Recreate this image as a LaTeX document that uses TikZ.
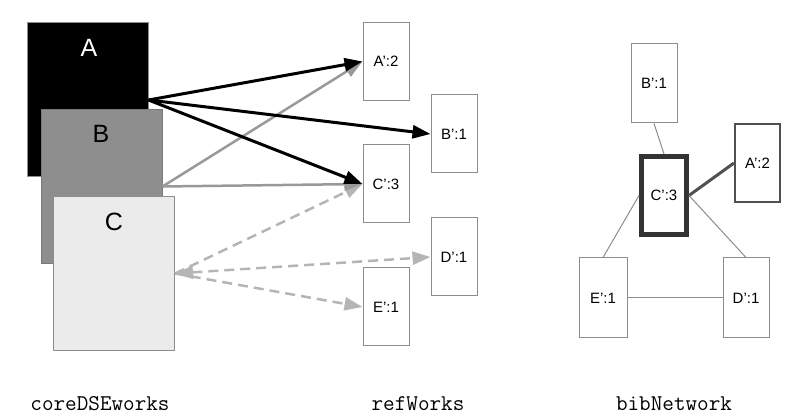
\documentclass[tikz,border=0pt]{standalone}
\usepackage{fontspec}
\setmainfont{Liberation Sans}
\usetikzlibrary{arrows.meta}
\definecolor{boxline}{HTML}{8C8C8C}
\definecolor{bfill}{HTML}{8E8E8E}
\definecolor{bline}{HTML}{7A7A7A}
\definecolor{cfill}{HTML}{EBEBEB}
\definecolor{garrow}{HTML}{999999}
\definecolor{darrow}{HTML}{B5B5B5}
\definecolor{thickline}{HTML}{333333}
\definecolor{medline}{HTML}{505050}
\begin{document}
\begin{tikzpicture}[x=1pt,y=-1pt,
  bigbox/.style={draw=boxline, line width=1pt, inner sep=0pt, minimum width=121pt, minimum height=154pt},
  biglabel/.style={font=\fontsize{25}{28}\selectfont, inner sep=0pt},
  refbox/.style={draw=boxline, line width=1pt, inner sep=0pt, minimum width=46pt, minimum height=78pt, fill=white, font=\fontsize{15}{17}\selectfont},
  caption/.style={font=\ttfamily\fontsize{22.5}{24}\selectfont, anchor=base, inner sep=0pt},
  tip/.style={-{Triangle[length=18pt,width=13pt]}},
  blackarrow/.style={tip, draw=black, line width=3pt},
  grayarrow/.style={tip, draw=garrow, line width=2.5pt},
  dasharrow/.style={tip, draw=darrow, line width=2.5pt, dash pattern=on 10pt off 6pt},
  thinedge/.style={draw=boxline, line width=1pt}
]
\useasboundingbox (0,0) rectangle (806,419);

% coreDSEworks stack
\node[bigbox, fill=black] (A) at (87.5,100) {};
\node[biglabel, text=white] (Alab) at (89,48) {A};
\node[bigbox, fill=bfill, draw=bline] (B) at (101.5,186.5) {};
\node[biglabel, text=black] (Blab) at (101,134) {B};
\node[bigbox, fill=cfill] (C) at (114,273.5) {};
\node[biglabel, text=black] (Clab) at (114,222) {C};

% refWorks
\node[refbox] (rA) at (386,61.5) {A':2};
\node[refbox] (rB) at (454,134) {B':1};
\node[refbox] (rC) at (386,184) {C':3};
\node[refbox] (rD) at (454,257) {D':1};
\node[refbox] (rE) at (386,307) {E':1};

% arrows
\draw[dasharrow] (C.east) -- (rC.west);
\draw[dasharrow, {Triangle[length=18pt,width=13pt]}-{Triangle[length=18pt,width=13pt]}] (C.east) -- (rD.west);
\draw[dasharrow] (C.east) -- (rE.west);
\draw[grayarrow] (B.east) -- (rA.west);
\draw[grayarrow] (B.east) -- (rC.west);
\draw[blackarrow] (A.east) -- (rA.west);
\draw[blackarrow] (A.east) -- (rB.west);
\draw[blackarrow] (A.east) -- (rC.west);

% bibNetwork
\node[refbox, minimum height=79pt] (nB) at (654,83.5) {B':1};
\node[refbox, draw=thickline, line width=5pt, minimum width=45pt, minimum height=78pt] (nC) at (664,195.5) {C':3};
\node[refbox, draw=medline, line width=2pt, minimum width=45pt, minimum height=78pt] (nA) at (757.5,163) {A':2};
\node[refbox, minimum width=48pt, minimum height=80pt] (nE) at (603,298) {E':1};
\node[refbox, minimum height=80pt] (nD) at (746,298) {D':1};

\draw[thinedge] (nB.south) -- (nC.north);
\draw[draw=medline, line width=3pt] (nC.east) -- (nA.west);
\draw[thinedge] (nE.north) -- (nC.west);
\draw[thinedge] (nD.north) -- (nC.east);
\draw[thinedge] (nE.east) -- (nD.west);

% captions
\node[caption] (cap1) at (100,411) {coreDSEworks};
\node[caption] (cap2) at (418,411) {refWorks};
\node[caption] (cap3) at (674,411) {bibNetwork};
\end{tikzpicture}
\end{document}
